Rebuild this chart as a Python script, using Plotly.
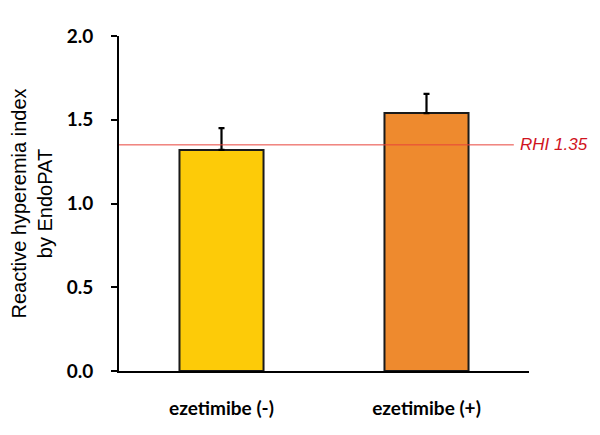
import plotly.graph_objects as go

categories = ["ezetimibe (-)", "ezetimibe (+)"]
rhi_values = [1.32, 1.54]
rhi_errors = [0.13, 0.115]
bar_colors = ["#FDCB08", "#EE8A2E"]
threshold = 1.35
threshold_label = "RHI 1.35"
y_ticks = [0.0, 0.5, 1.0, 1.5, 2.0]

fig = go.Figure()
fig.add_trace(go.Bar(
    x=categories, y=rhi_values,
    width=0.41,
    marker=dict(color=bar_colors, line=dict(color="#1a1a1a", width=2)),
    error_y=dict(type="data", array=rhi_errors, arrayminus=[0, 0], symmetric=False,
                 color="black", thickness=2.2, width=3),
    showlegend=False,
))

fig.add_shape(type="line", xref="paper", yref="y", x0=0, x1=0.963,
              y0=threshold, y1=threshold, line=dict(color="#E8433A", width=1), layer="above")
fig.add_annotation(xref="paper", yref="y", x=0.972, y=threshold,
                   text="<i>" + threshold_label + "</i>",
                   showarrow=False, xanchor="left", yanchor="middle",
                   font=dict(family="Liberation Sans, Arial", size=17, color="#D0141E"))

fig.update_layout(
    width=600, height=435,
    margin=dict(l=111, r=79, t=28, b=72),
    paper_bgcolor="white", plot_bgcolor="white",
    font=dict(family="Lato, Open Sans, sans-serif", color="black"),
    xaxis=dict(
        range=[-0.5, 1.5], showline=True, linecolor="black", linewidth=2,
        ticks="", tickfont=dict(size=19, family="Lato", weight="bold"),
        ticklabelstandoff=19, showgrid=False, zeroline=False, automargin=False,
    ),
    yaxis=dict(
        range=[0, 2.0], tickvals=y_ticks, ticktext=[f"{v:.1f}" for v in y_ticks],
        showline=True, linecolor="black", linewidth=2, ticks="outside", ticklen=6,
        tickwidth=2, tickcolor="black",
        tickfont=dict(size=19, family="Lato", weight="bold"),
        ticklabelstandoff=14, showgrid=False, zeroline=False, automargin=False,
        title=dict(text="Reactive hyperemia index<br>by EndoPAT",
                   font=dict(size=20, family="Liberation Sans, Arial"), standoff=9),
    ),
)

fig.write_html("out.html")
